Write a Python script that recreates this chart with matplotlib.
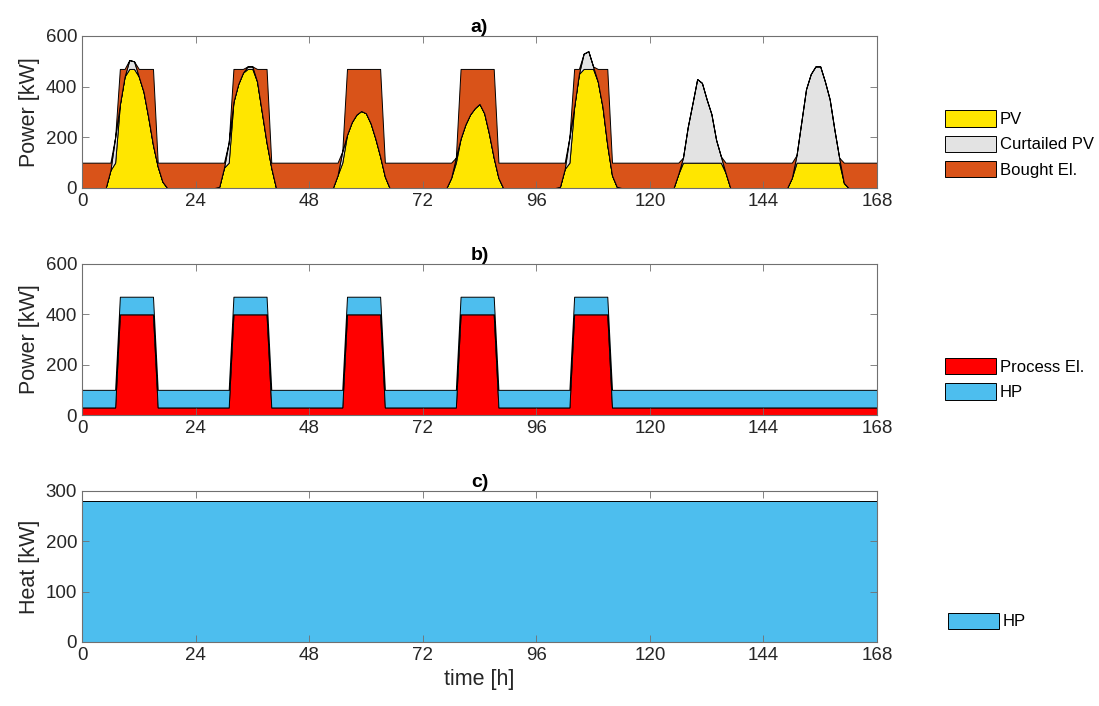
import matplotlib.pyplot as plt
import numpy as np

plt.rcParams['font.family'] = ['Liberation Sans', 'DejaVu Sans']

# hourly PV production [kW] for hours 5..18 of each day
pv_hours = list(range(5, 19))
pv_day1 = [0, 70, 200, 330, 440, 505, 500, 440, 380, 280, 170, 85, 25, 0]
pv_day2 = [5, 80, 180, 340, 410, 455, 480, 480, 420, 300, 180, 80, 0, 0]
pv_day3 = [0, 50, 145, 210, 260, 290, 304, 295, 255, 195, 125, 45, 0, 0]
pv_day4 = [0, 40, 120, 195, 250, 290, 315, 332, 295, 215, 120, 40, 0, 0]
pv_day5 = [5, 75, 200, 320, 450, 530, 540, 480, 420, 320, 170, 50, 5, 0]
pv_day6 = [0, 55, 120, 240, 334, 430, 415, 350, 292, 190, 125, 60, 0, 0]
pv_day7 = [0, 40, 130, 260, 390, 450, 480, 480, 420, 350, 230, 120, 20, 0]
pv_days = [pv_day1, pv_day2, pv_day3, pv_day4, pv_day5, pv_day6, pv_day7]

# electricity demand [kW]
work_days = [0, 1, 2, 3, 4]
work_hours = list(range(8, 16))
process_base = 30
process_peak = 400
hp_el = 70

# heat [kW]
hp_heat = 280

t = np.arange(169)
pv = np.zeros(len(t))
for d, day in enumerate(pv_days):
    for h, v in zip(pv_hours, day):
        pv[24 * d + h] = v

process = np.full(len(t), float(process_base))
for d in work_days:
    for h in work_hours:
        process[24 * d + h] = process_peak
hp = np.full(len(t), float(hp_el))
demand = process + hp

pv_used = np.minimum(pv, demand)
curtailed = pv - pv_used
bought = demand - pv_used
heat = np.full(len(t), float(hp_heat))

c_pv = '#FFE600'
c_curt = '#E3E3E3'
c_bought = '#D95319'
c_proc = '#FF0000'
c_hp = '#4DBEEE'
txt = '#262626'

fig = plt.figure(figsize=(10.99, 7.06), dpi=100)
W, H = 1099, 706
boxes = [(36, 188), (264, 415), (491, 642)]
axs = [fig.add_axes([82 / W, 1 - b / H, 795 / W, (b - tp) / H]) for tp, b in boxes]

ek = dict(edgecolor='k', linewidth=0.7)

ax = axs[0]
pa = ax.stackplot(t, pv_used, curtailed, bought, colors=[c_pv, c_curt, c_bought], **ek)
ax.set_ylim(0, 600)
ax.set_yticks([0, 200, 400, 600])
ax.set_ylabel('Power [kW]', fontsize=15.5, color=txt)
ax.set_title('a)', fontweight='bold', fontsize=14, pad=3)

ax = axs[1]
pb = ax.stackplot(t, process, hp, colors=[c_proc, c_hp], **ek)
ax.set_ylim(0, 600)
ax.set_yticks([0, 200, 400, 600])
ax.set_ylabel('Power [kW]', fontsize=15.5, color=txt)
ax.set_title('b)', fontweight='bold', fontsize=14, pad=3)

ax = axs[2]
pc = ax.stackplot(t, heat, colors=[c_hp], **ek)
ax.set_ylim(0, 300)
ax.set_yticks([0, 100, 200, 300])
ax.set_ylabel('Heat [kW]', fontsize=15.5, color=txt)
ax.set_xlabel('time [h]', fontsize=15.5, color=txt)
ax.set_title('c)', fontweight='bold', fontsize=14, pad=3)

for ax in axs:
    ax.set_xlim(0, 168)
    ax.set_xticks(range(0, 169, 24))
    ax.tick_params(direction='in', top=True, right=True, length=5,
                   labelsize=13.5, colors=txt, width=0.6)
    ax.tick_params(axis='both', labelcolor=txt, color='#707070')
    for s in ax.spines.values():
        s.set_color('#707070')
        s.set_linewidth(0.8)

leg_kw = dict(loc='center left', frameon=False, fontsize=12, borderaxespad=0,
              borderpad=0, handlelength=3.05, handleheight=1.14,
              labelspacing=0.5, handletextpad=0.25,
              bbox_transform=fig.transFigure)
fig.legend(pa, ['PV', 'Curtailed PV', 'Bought El.'],
           bbox_to_anchor=(945 / W, 1 - 144 / H), **leg_kw)
fig.legend(pb, ['Process El.', 'HP'],
           bbox_to_anchor=(945 / W, 1 - 379 / H), **leg_kw)
fig.legend(pc, ['HP'],
           bbox_to_anchor=(948 / W, 1 - 621 / H), **leg_kw)

fig.savefig('out.png', dpi=100)
